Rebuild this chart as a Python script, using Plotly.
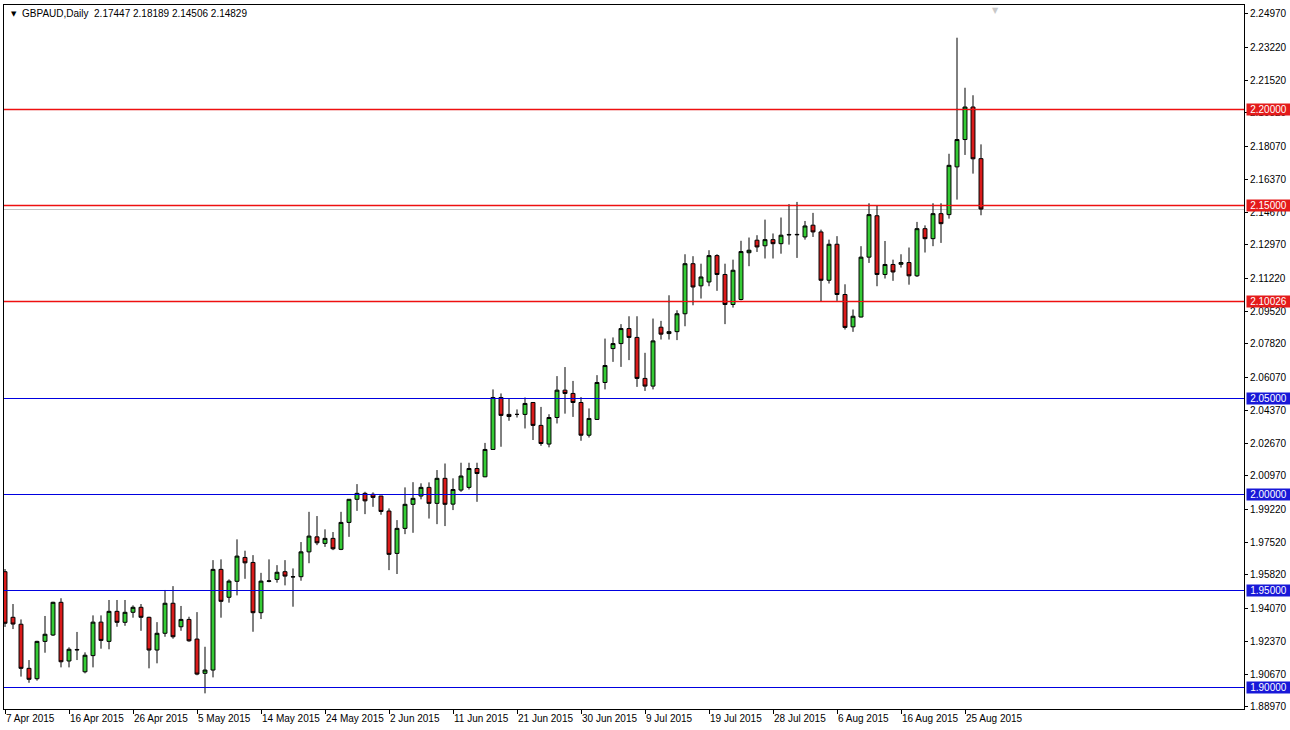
import pandas as pd
import plotly.graph_objects as go

# ---------------- data ----------------
symbol = "GBPAUD,Daily"

# trading calendar of the broker: Sunday..Friday bars, first bar 7 Apr 2015
dates = pd.bdate_range(start="2015-04-07", periods=123, freq="C",
                       weekmask="Sun Mon Tue Wed Thu Fri")

opens = [1.9599, 1.9362, 1.9326, 1.9097, 1.9043, 1.9237, 1.9270, 1.9440, 1.9135, 1.9195,
         1.9079, 1.9163, 1.9337, 1.9237, 1.9393, 1.9336, 1.9388, 1.9414, 1.9362, 1.9192,
         1.9279, 1.9435, 1.9313, 1.9351, 1.9249, 1.9071, 1.9088, 1.9611, 1.9466, 1.9549,
         1.9673, 1.9647, 1.9386, 1.9549, 1.9559, 1.9599, 1.9573, 1.9573, 1.9702, 1.9780,
         1.9746, 1.9772, 1.9715, 1.9855, 1.9975, 2.0006, 2.0001, 1.9992, 1.9914, 1.9694,
         1.9824, 1.9949, 1.9992, 2.0037, 1.9954, 2.0084, 1.9950, 2.0023, 2.0037, 2.0135,
         2.0092, 2.0234, 2.0504, 2.0416, 2.0416, 2.0416, 2.0478, 2.0359, 2.0262, 2.0400,
         2.0542, 2.0525, 2.0478, 2.0308, 2.0390, 2.0582, 2.0758, 2.0784, 2.0862, 2.0816,
         2.0603, 2.0563, 2.0869, 2.0836, 2.0846, 2.0939, 2.1199, 2.1084, 2.1104, 2.1241,
         2.1143, 2.0987, 2.1013, 2.1256, 2.1321, 2.1292, 2.1324, 2.1303, 2.1351, 2.1349,
         2.1338, 2.1399, 2.1364, 2.1113, 2.1300, 2.1039, 2.0871, 2.0922, 2.1233, 2.1448,
         2.1143, 2.1195, 2.1196, 2.1205, 2.1136, 2.1381, 2.1329, 2.1459, 2.1454, 2.1702,
         2.1844, 2.2013, 2.17447]
highs = [1.9613, 1.9431, 1.9351, 1.9140, 1.9240, 1.9369, 1.9443, 1.9461, 1.9206, 1.9286,
         1.9180, 1.9372, 1.9372, 1.9452, 1.9452, 1.9452, 1.9424, 1.9431, 1.9365, 1.9337,
         1.9504, 1.9524, 1.9421, 1.9365, 1.9389, 1.9209, 1.9659, 1.9663, 1.9559, 1.9767,
         1.9708, 1.9685, 1.9593, 1.9663, 1.9633, 1.9659, 1.9616, 1.9753, 1.9910, 1.9888,
         1.9819, 1.9805, 1.9910, 1.9976, 2.0054, 2.0014, 2.0011, 1.9993, 1.9928, 1.9867,
         2.0037, 2.0064, 2.0058, 2.0063, 2.0127, 2.0161, 2.0084, 2.0165, 2.0165, 2.0165,
         2.0268, 2.0546, 2.0525, 2.0500, 2.0442, 2.0504, 2.0480, 2.0455, 2.0417, 2.0615,
         2.0662, 2.0590, 2.0506, 2.0447, 2.0620, 2.0810, 2.0816, 2.0885, 2.0926, 2.0926,
         2.0736, 2.0914, 2.0902, 2.1035, 2.0957, 2.1248, 2.1238, 2.1199, 2.1269, 2.1248,
         2.1199, 2.1220, 2.1318, 2.1335, 2.1347, 2.1428, 2.1356, 2.1439, 2.1508, 2.1520,
         2.1421, 2.1463, 2.1376, 2.1324, 2.1342, 2.1092, 2.0961, 2.1290, 2.1513, 2.1503,
         2.1317, 2.1220, 2.1248, 2.1283, 2.1416, 2.1398, 2.1513, 2.1513, 2.1770, 2.2373,
         2.2113, 2.2074, 2.18189]
lows = [1.9312, 1.9301, 1.9054, 1.9022, 1.9033, 1.9178, 1.9265, 1.9102, 1.9102, 1.9140,
        1.9071, 1.9102, 1.9199, 1.9196, 1.9313, 1.9318, 1.9360, 1.9292, 1.9097, 1.9123,
        1.9261, 1.9251, 1.9292, 1.9235, 1.9061, 1.8967, 1.9050, 1.9360, 1.9438, 1.9476,
        1.9562, 1.9287, 1.9353, 1.9544, 1.9542, 1.9528, 1.9417, 1.9552, 1.9643, 1.9737,
        1.9728, 1.9711, 1.9711, 1.9780, 1.9915, 1.9898, 1.9936, 1.9895, 1.9607, 1.9587,
        1.9794, 1.9801, 1.9975, 1.9875, 1.9846, 1.9836, 1.9919, 2.0014, 2.0026, 1.9962,
        2.0090, 2.0233, 2.0248, 2.0383, 2.0400, 2.0343, 2.0283, 2.0253, 2.0245, 2.0369,
        2.0420, 2.0403, 2.0279, 2.0296, 2.0388, 2.0546, 2.0689, 2.0663, 2.0698, 2.0559,
        2.0538, 2.0546, 2.0805, 2.0805, 2.0802, 2.0874, 2.0983, 2.1018, 2.1082, 2.1058,
        2.0885, 2.0971, 2.1009, 2.1186, 2.1260, 2.1226, 2.1226, 2.1251, 2.1298, 2.1229,
        2.1324, 2.1338, 2.1004, 2.1096, 2.1006, 2.0857, 2.0845, 2.0920, 2.1203, 2.1082,
        2.1122, 2.1110, 2.1179, 2.1090, 2.1130, 2.1257, 2.1290, 2.1307, 2.1433, 2.1532,
        2.1764, 2.1667, 2.14506]
closes = [1.9331, 1.9327, 1.9097, 1.9040, 1.9237, 1.9274, 1.9440, 1.9131, 1.9196, 1.9193,
          1.9165, 1.9337, 1.9242, 1.9393, 1.9336, 1.9388, 1.9414, 1.9362, 1.9192, 1.9279,
          1.9435, 1.9261, 1.9351, 1.9240, 1.9067, 1.9088, 1.9611, 1.9445, 1.9550, 1.9680,
          1.9645, 1.9386, 1.9550, 1.9551, 1.9596, 1.9576, 1.9572, 1.9702, 1.9784, 1.9749,
          1.9772, 1.9718, 1.9855, 1.9975, 2.0006, 1.9967, 1.9985, 1.9912, 1.9689, 1.9824,
          1.9949, 1.9980, 2.0037, 1.9954, 2.0084, 1.9949, 2.0026, 2.0096, 2.0135, 2.0109,
          2.0234, 2.0504, 2.0411, 2.0405, 2.0416, 2.0473, 2.0359, 2.0265, 2.0400, 2.0542,
          2.0525, 2.0478, 2.0308, 2.0395, 2.0582, 2.0670, 2.0784, 2.0862, 2.0816, 2.0603,
          2.0563, 2.0798, 2.0833, 2.0846, 2.0939, 2.1199, 2.1078, 2.1130, 2.1241, 2.1143,
          2.0987, 2.1165, 2.1262, 2.1269, 2.1286, 2.1324, 2.1303, 2.1347, 2.1349, 2.1351,
          2.1395, 2.1364, 2.1113, 2.1300, 2.1039, 2.0868, 2.0926, 2.1233, 2.1454, 2.1143,
          2.1195, 2.1156, 2.1205, 2.1136, 2.1381, 2.1329, 2.1459, 2.1407, 2.1710, 2.1844,
          2.2013, 2.1744, 2.14829]

# price axis tick values shown by the terminal
price_ticks = [2.24970, 2.23220, 2.21520, 2.19820, 2.18070, 2.16370, 2.14670, 2.12970,
               2.11220, 2.09520, 2.07820, 2.06070, 2.04370, 2.02670, 2.00970, 1.99220,
               1.97520, 1.95820, 1.94070, 1.92370, 1.90670, 1.88970]

# horizontal levels drawn on the chart
red_levels = [2.20000, 2.15000, 2.10026]
blue_levels = [2.05000, 2.00000, 1.95000, 1.90000]

# ---------------- figure ----------------
x = [d.strftime("%Y-%m-%d") for d in dates]
date_labels = [f"{d.day} {d.strftime('%b %Y')}" for d in dates]
label_step = 8

GREEN = "#35CB35"
RED = "#DA1B1B"
LRED = "#F01010"
LRED_HALO = "#F7C4C4"
BLUE = "#0000E0"
FONT = "Liberation Sans, Arial, sans-serif"

fig = go.Figure()
fig.add_trace(go.Candlestick(
    x=x, open=opens, high=highs, low=lows, close=closes,
    increasing=dict(fillcolor=GREEN, line=dict(color="#000000", width=1)),
    decreasing=dict(fillcolor=RED, line=dict(color="#000000", width=1)),
    whiskerwidth=0, showlegend=False, hoverinfo="skip",
))

shapes = []
annotations = []
# bid line at last close
shapes.append(dict(type="line", xref="paper", yref="y", x0=0, x1=1,
                   y0=closes[-1], y1=closes[-1],
                   line=dict(color="#C4C4C4", width=1), layer="below"))
for lvl in red_levels:
    shapes.append(dict(type="line", xref="paper", yref="y", x0=0, x1=1, y0=lvl, y1=lvl,
                       line=dict(color=LRED_HALO, width=3), layer="below"))
for lvl in blue_levels:
    shapes.append(dict(type="line", xref="paper", yref="y", x0=0, x1=1, y0=lvl, y1=lvl,
                       line=dict(color=BLUE, width=1), layer="above"))
for lvl in red_levels:
    shapes.append(dict(type="line", xref="paper", yref="y", x0=0, x1=1, y0=lvl, y1=lvl,
                       line=dict(color=LRED, width=1), layer="above"))

for lvls, col in ((red_levels, "#E41B1B"), (blue_levels, "#1818D8")):
    for lvl in lvls:
        annotations.append(dict(
            xref="paper", yref="y", x=1, y=lvl, xanchor="left", yanchor="middle",
            xshift=2, text=f"{lvl:.5f}", showarrow=False, bgcolor=col,
            width=43, height=11, borderpad=0, align="center",
            font=dict(family=FONT, size=10, color="#FFFFFF")))

# header: symbol, timeframe and OHLC of the last bar
annotations.append(dict(xref="paper", yref="paper", x=0, y=1, xanchor="left", yanchor="top",
                        xshift=5, yshift=-3, text="▼", showarrow=False,
                        font=dict(family="DejaVu Sans", size=7, color="#000000")))
annotations.append(dict(
    xref="paper", yref="paper", x=0, y=1, xanchor="left", yanchor="top",
    xshift=16, yshift=-1, showarrow=False,
    text=f"{symbol}  {opens[-1]:.5f} {highs[-1]:.5f} {lows[-1]:.5f} {closes[-1]:.5f}",
    font=dict(family=FONT, size=10, color="#000000")))
# chart-shift marker
annotations.append(dict(xref="paper", yref="paper", x=0.7995, y=1, xanchor="center",
                        yanchor="top", yshift=1, text="▼", showarrow=False,
                        font=dict(family="DejaVu Sans", size=8, color="#C8C8C8")))

fig.update_layout(
    width=1290, height=730,
    margin=dict(l=4, r=46, t=5, b=21, autoexpand=False),
    paper_bgcolor="#FFFFFF", plot_bgcolor="#FFFFFF",
    font=dict(family=FONT, size=10, color="#000000"),
    shapes=shapes, annotations=annotations,
    showlegend=False,
    xaxis=dict(
        type="category", range=[-0.125, 154.875], automargin=False,
        tickmode="array", tickvals=x[::label_step], ticktext=date_labels[::label_step],
        ticks="outside", ticklen=4, tickcolor="#000000", tickangle=0,
        ticklabelposition="outside right",
        showgrid=False, zeroline=False, showline=True, linecolor="#000000",
        linewidth=1, mirror=True, rangeslider=dict(visible=False),
        tickfont=dict(family=FONT, size=10, color="#000000"), fixedrange=True,
    ),
    yaxis=dict(
        side="right", range=[1.88857, 2.25429], automargin=False,
        tickmode="array", tickvals=price_ticks,
        ticktext=[f"{v:.5f}" for v in price_ticks],
        ticks="outside", ticklen=3, tickcolor="#000000",
        showgrid=False, zeroline=False, showline=True, linecolor="#000000",
        linewidth=1, mirror=True,
        tickfont=dict(family=FONT, size=10, color="#000000"), fixedrange=True,
    ),
)

fig.write_html(
    "out.html",
    config={"displayModeBar": False, "staticPlot": True},
    post_script=(
        "document.body.style.margin='0';document.body.style.padding='0';"
        "document.body.style.overflow='hidden';"
        "document.documentElement.style.overflow='hidden';"
        "var st=document.createElement('style');"
        "st.textContent='.shapelayer path{shape-rendering:crispEdges !important;}';"
        "document.head.appendChild(st);"
    ),
)
